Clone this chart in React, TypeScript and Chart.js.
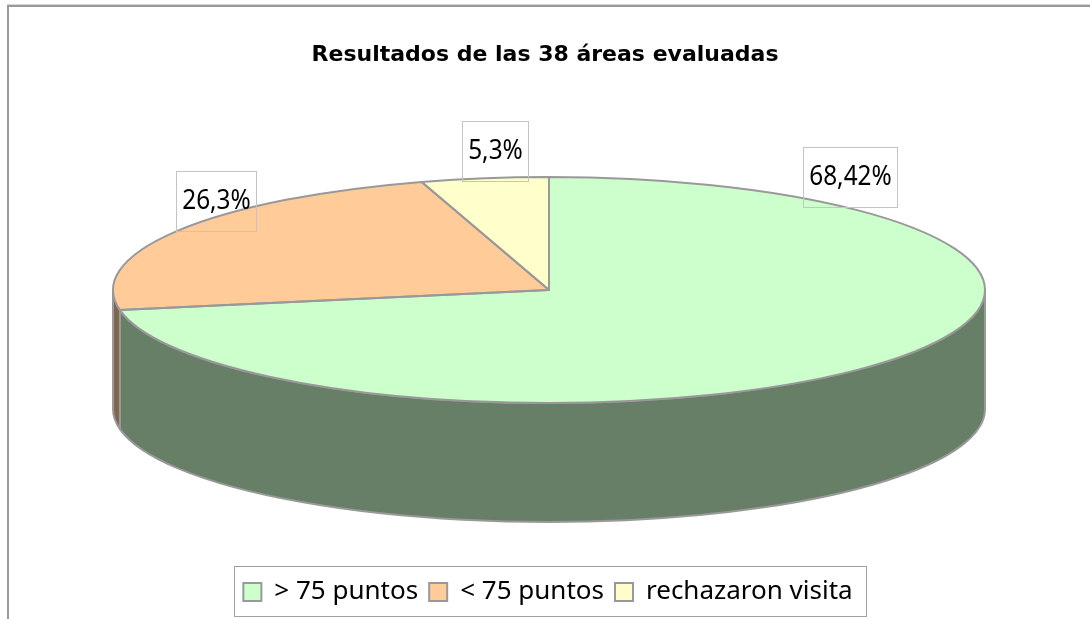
import React, { useEffect, useRef } from "react";
import { Chart, registerables } from "chart.js";

Chart.register(...registerables);

const titleText = "Resultados de las 38 áreas evaluadas";
const categories = ["> 75 puntos", "< 75 puntos", "rechazaron visita"];
const sliceValues = [68.42, 26.3, 5.3];
const topColors = ["#ccffcc", "#ffcc99", "#ffffcc"];
const wallColors = ["#667f66", "#80664d", "#80805f"];
const labelBoxes = [
  [803.5, 147.5, 94, 60],
  [176.5, 171.5, 80, 60],
  [462.5, 121.5, 66, 60],
];

const OUTLINE = "#999999";
const CX = 549;
const CY = 290;
const RX = 436;
const RY = 113;
const DEPTH = 119;
const VIEW_K = 0.214;
const VIEW_J = 0.054;
const LEGEND_SHIFT = 3;

// Excel's 3D view distorts sweep angles; apply a similar view projection.
const project = (a: number) => {
  const t = a + Math.PI / 2;
  return t - VIEW_K * Math.sin(t) + VIEW_J * Math.sin(2 * t) - Math.PI / 2;
};

const pie3d = {
  id: "pie3d",
  afterDatasetsUpdate(chart: any) {
    chart.getDatasetMeta(0).data.forEach((el: any) => {
      const s = project(el.startAngle);
      const e = project(el.endAngle);
      el.startAngle = s;
      el.endAngle = e;
      el.circumference = e - s;
    });
  },
  afterLayout(chart: any) {
    chart.legend.left += LEGEND_SHIFT;
    chart.legend.right += LEGEND_SHIFT;
  },
  beforeDraw(chart: any) {
    const { ctx } = chart;
    ctx.save();
    ctx.fillStyle = "#d8d8d8";
    ctx.fillRect(7, 4, 1083, 1);
    ctx.fillStyle = "#999999";
    ctx.fillRect(7, 5, 1083, 2);
    ctx.fillRect(7, 5, 2, 614);
    ctx.restore();
  },
  beforeDatasetsDraw(chart: any) {
    const { ctx } = chart;
    const arcs = chart.getDatasetMeta(0).data;
    ctx.save();
    ctx.lineWidth = 2;
    ctx.strokeStyle = OUTLINE;
    ctx.lineJoin = "round";
    arcs.forEach((el: any, i: number) => {
      const lo = Math.max(el.startAngle, 0);
      const hi = Math.min(el.endAngle, Math.PI);
      if (hi <= lo) return;
      ctx.beginPath();
      ctx.ellipse(CX, CY, RX, RY, 0, lo, hi);
      ctx.ellipse(CX, CY + DEPTH, RX, RY, 0, hi, lo, true);
      ctx.closePath();
      ctx.fillStyle = wallColors[i];
      ctx.fill();
      ctx.stroke();
    });
    ctx.restore();
    ctx.save();
    const el0 = arcs[0];
    ctx.translate(CX, CY);
    ctx.scale(RX / RY, 1);
    ctx.translate(-el0.x, -el0.y);
  },
  afterDatasetsDraw(chart: any) {
    const { ctx } = chart;
    ctx.restore();
    const arcs = chart.getDatasetMeta(0).data;
    ctx.save();
    ctx.lineWidth = 2;
    ctx.strokeStyle = OUTLINE;
    ctx.lineJoin = "round";
    arcs.forEach((el: any) => {
      ctx.beginPath();
      ctx.moveTo(CX, CY);
      ctx.ellipse(CX, CY, RX, RY, 0, el.startAngle, el.endAngle);
      ctx.closePath();
      ctx.stroke();
    });
    ctx.restore();
  },
  afterDraw(chart: any) {
    const { ctx } = chart;
    ctx.save();
    ctx.lineWidth = 1;
    ctx.strokeStyle = "#c4c4c4";
    ctx.fillStyle = "#000000";
    ctx.font = '28px "Noto Sans"';
    ctx.textAlign = "center";
    ctx.textBaseline = "middle";
    sliceValues.forEach((v, i) => {
      const [x, y, w, h] = labelBoxes[i];
      ctx.strokeRect(x, y, w, h);
      ctx.save();
      ctx.translate(x + w / 2, y + h / 2);
      ctx.scale(0.87, 1);
      ctx.fillText(String(v).replace(".", ",") + "%", 0, 0);
      ctx.restore();
    });
    const hb = chart.legend.legendHitBoxes;
    ctx.strokeStyle = "#a0a0a0";
    const left = hb[0].left + LEGEND_SHIFT - 12.5;
    const last = hb[hb.length - 1];
    ctx.strokeRect(
      Math.round(left) + 0.5,
      566.5,
      Math.round(last.left + LEGEND_SHIFT + last.width + 10.5 - left),
      50
    );
    ctx.restore();
  },
};

export default function App() {
  const ref = useRef<HTMLCanvasElement>(null);
  useEffect(() => {
    const chart = new Chart(ref.current!, {
      type: "pie",
      data: {
        labels: categories,
        datasets: [
          {
            data: sliceValues,
            backgroundColor: topColors,
            borderWidth: 0,
            radius: RY,
          } as any,
        ],
      },
      options: {
        responsive: false,
        animation: false,
        layout: { padding: { bottom: 4, top: 0, left: 0, right: 0 } },
        plugins: {
          tooltip: { enabled: false },
          title: {
            display: true,
            text: titleText,
            color: "#000000",
            font: { family: '"DejaVu Sans"', size: 22, weight: "bold" },
            padding: { top: 42, bottom: 10 },
          },
          legend: {
            display: true,
            position: "bottom",
            labels: {
              color: "#000000",
              font: { family: '"Noto Sans"', size: 26 },
              boxWidth: 18,
              boxHeight: 18,
              padding: 11,
              generateLabels: (c: any) =>
                (Chart as any).overrides.pie.plugins.legend.labels
                  .generateLabels(c)
                  .map((l: any) => ({ ...l, strokeStyle: OUTLINE, lineWidth: 2 })),
            },
          },
        },
      },
      plugins: [pie3d],
    } as any);
    return () => chart.destroy();
  }, []);
  return (
    <div style={{ position: "absolute", left: 0, top: 0, width: 1090, height: 619, background: "#fff" }}>
      <canvas ref={ref} width={1090} height={619} style={{ display: "block" }} />
    </div>
  );
}
